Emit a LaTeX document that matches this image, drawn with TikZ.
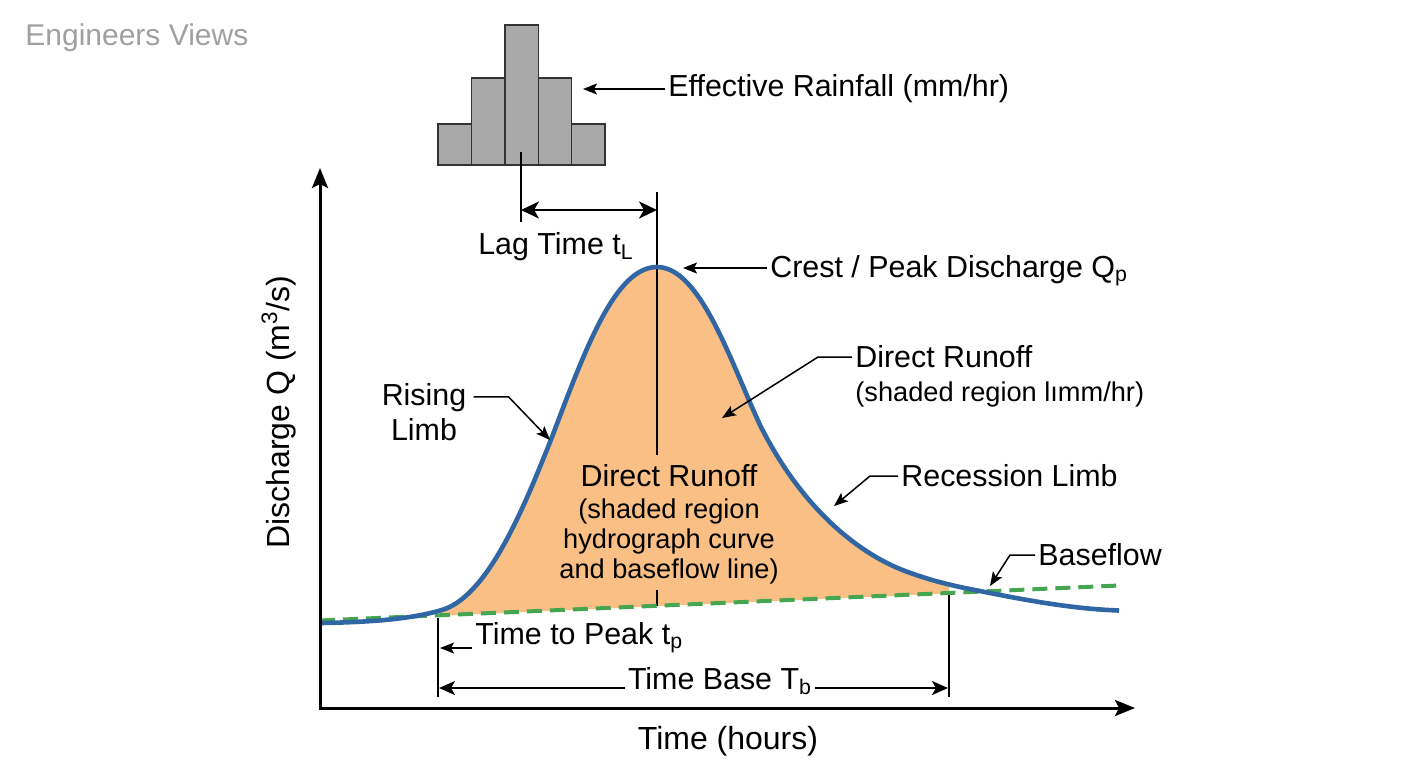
\documentclass[tikz,border=0pt]{standalone}
\usepackage{fontspec}
\setmainfont{Liberation Sans}
\usetikzlibrary{arrows.meta}
\definecolor{runoff}{HTML}{F9BF84}
\definecolor{hydro}{HTML}{2F66A3}
\definecolor{basegreen}{HTML}{45A550}
\definecolor{bargray}{HTML}{A9A9A9}
\definecolor{wmgray}{HTML}{A0A0A0}
\newcommand\hgcurve{(320,623) .. controls (385,622) and (420,617) .. (445,609)
 .. controls (490,592) and (525,505) .. (552,437)
 .. controls (585,350) and (615,267) .. (657,267)
 .. controls (700,267) and (730,360) .. (760,425)
 .. controls (800,505) and (855,552) .. (905,571)
 .. controls (940,584) and (965,588) .. (985,592)
 .. controls (1030,601) and (1075,609) .. (1119,610.5)}
\begin{document}
\begin{tikzpicture}[x=0.5pt,y=-0.5pt,
  lbl/.style={font=\fontsize{15.2}{17.5}\selectfont, inner sep=1.5pt},
  sublbl/.style={font=\fontsize{13.6}{15}\selectfont, inner sep=1.5pt},
  axlbl/.style={font=\fontsize{16}{19}\selectfont, inner sep=1pt},
  leader/.style={line width=0.75pt, -{Stealth[length=7pt,width=5.5pt,inset=1.5pt]}},
  thin/.style={line width=0.6pt},
  lagarrow/.style={line width=1.2pt, {Stealth[length=9pt,width=8.5pt,inset=2.5pt]}-{Stealth[length=9pt,width=8.5pt,inset=2.5pt]}},
  dimarrow/.style={line width=1pt, -{Stealth[length=8pt,width=7pt,inset=2pt]}},
  axis/.style={line width=1.5pt, -{Stealth[length=10pt,width=8pt,inset=2pt]}},
  bar/.style={fill=bargray, draw=black!80, line width=0.7pt},
  curve/.style={draw=hydro, line width=2.3pt},
  baseline/.style={draw=basegreen, line width=2pt, dash pattern=on 7.5pt off 4pt}]
\useasboundingbox (0,0) rectangle (1408,768);

% watermark
\node[font=\fontsize{15}{18}\selectfont, text=wmgray, anchor=west, inner sep=0pt] (wm) at (25,38) {Engineers Views};

% hyetograph
\draw[bar] (438,165) rectangle (471.4,124);
\draw[bar] (471.4,165) rectangle (504.8,78);
\draw[bar] (504.8,165) rectangle (538.2,25);
\draw[bar] (538.2,165) rectangle (571.6,78);
\draw[bar] (571.6,165) rectangle (605,124);
\node[lbl, anchor=west] (rf) at (665,89) {Effective Rainfall (mm/hr)};
\coordinate (rfT) at (583,89);
\draw[leader] (rf.west) -- (rfT);

% direct runoff shading
\begin{scope}
  \clip (440,0) rectangle (949,768);
  \fill[runoff] \hgcurve -- (1119,586) -- (320,621) -- cycle;
\end{scope}

% lag time
\coordinate (lagL) at (521,210);
\coordinate (lagR) at (657,210);
\draw[thin] (521,152) -- (521,222);
\draw[thin] (657,192) -- (657,455);
\draw[thin] (657,590) -- (657,606);
\draw[lagarrow] (lagL) -- (lagR);
\node[lbl] (lag) at (556,247) {Lag Time t\textsubscript{L}};

% baseflow line and hydrograph
\draw[baseline] (320,620.5) -- (1119,585.5);
\draw[curve] \hgcurve;

% time markers
\draw[thin] (438,618) -- (438,697);
\draw[thin] (949,595) -- (949,697);

% axes
\coordinate (O) at (320,708);
\coordinate (yT) at (320,168);
\coordinate (xT) at (1135,708);
\draw[axis] ([yshift=-0.75pt]O) -- (yT);
\draw[axis] ([xshift=-0.75pt]O) -- (xT);
\node[axlbl] (xl) at (728,741) {Time (hours)};
\node[axlbl, rotate=90] (yl) at (279,412) {Discharge Q (m\textsuperscript{3}/s)};

% crest
\node[lbl, anchor=west] (crest) at (767,271) {Crest / Peak Discharge Q\textsubscript{p}};
\coordinate (crT) at (683,268);
\draw[leader] (crest.west |- crT) -- (crT);

% direct runoff (upper)
\node[lbl, anchor=west] (dr1) at (852,357) {Direct Runoff};
\node[sublbl, anchor=west] (dr1b) at (852,394) {(shaded region lımm/hr)};
\coordinate (drT) at (722,418);
\draw[leader] (dr1.west) -- ++(-34,0) -- (drT);

% rising limb
\node[lbl, align=center] (rise) at (424,412) {Rising\\Limb};
\coordinate (riseT) at (550,440);
\draw[leader] ([xshift=2pt,yshift=-8.5pt]rise.north east) -- ++(35,0) -- (riseT);

% recession limb
\node[lbl, anchor=west] (rec) at (898,476) {Recession Limb};
\coordinate (recT) at (834,506);
\draw[leader] (rec.west) -- ++(-28,0) -- (recT);

% baseflow
\node[lbl, anchor=west] (bf) at (1035,555) {Baseflow};
\coordinate (bfT) at (990,586);
\draw[leader] (bf.west) -- ++(-25,0) -- (bfT);

% direct runoff (inside)
\node[lbl] (dr2) at (669,476) {Direct Runoff};
\node[sublbl, align=center] (dr2b) at (669,541) {(shaded region\\hydrograph curve\\and baseflow line)};

% time to peak
\node[lbl, anchor=west] (tp) at (472,638) {Time to Peak t\textsubscript{p}};
\coordinate (tpT) at (440,648);
\draw[leader] (tp.west |- tpT) -- (tpT);

% time base
\node[lbl] (tb) at (720,681) {Time Base T\textsubscript{b}};
\coordinate (tbL) at (439,688);
\coordinate (tbR) at (948,688);
\draw[dimarrow] (tb.west |- tbL) -- (tbL);
\draw[dimarrow] (tb.east |- tbR) -- (tbR);
\end{tikzpicture}
\end{document}
